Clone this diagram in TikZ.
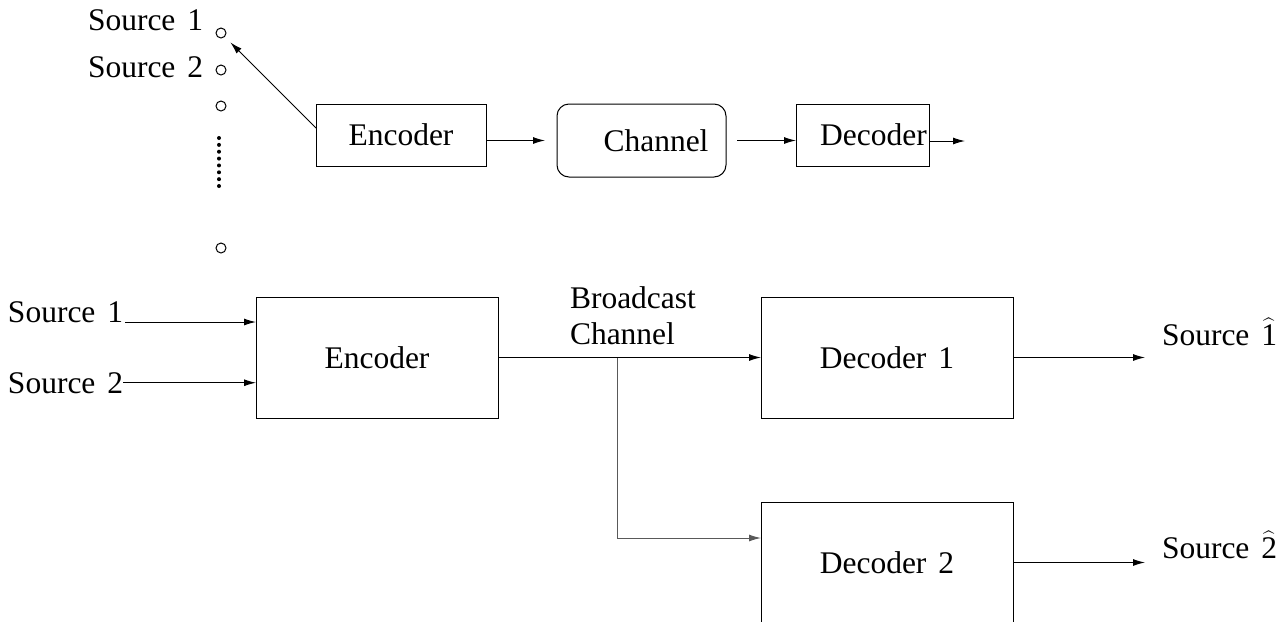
\documentclass[tikz,border=0pt]{standalone}
\usepackage{fontspec}
\setmainfont{Liberation Serif}
\usetikzlibrary{arrows.meta}
\newcommand{\srcgap}{\hspace{6pt}}
\tikzstyle{block}=[draw, inner sep=0, outer sep=0]
\tikzstyle{smallblock}=[block, minimum width=85pt, minimum height=31pt]
\tikzstyle{bigblock}=[block, minimum height=60.5pt]
\tikzstyle{terminal}=[draw, circle, inner sep=0, minimum size=5pt]
\tikzstyle{plain}=[inner sep=0, outer sep=0]
\tikzstyle{conn}=[-{Latex[length=6pt,width=3.5pt]}]
\tikzstyle{diagram}=[x=0.5pt, y=-0.5pt, line width=0.5pt,
                     % text size fitted to the boxes
                     every node/.style={font=\fontsize{15.75}{18}\selectfont}]

\begin{document}
\begin{tikzpicture}[diagram]
        \useasboundingbox (0, 0) rectangle (1282, 622);
        % single source / single user chain
        \node[plain, anchor=base west]        (tsrcA) at (88, 30) {Source\srcgap1};
        \node[plain, anchor=base west]        (tsrcB) at (88, 77) {Source\srcgap2};
        \node[terminal]                       (c1) at (221, 33) {};
        \node[terminal]                       (c2) at (221, 70) {};
        \node[terminal]                       (c3) at (221, 106) {};
        \node[terminal]                       (c4) at (221, 248) {};
        \foreach \k in {0,...,7}
            \fill (219, 138+6.86*\k) circle (1pt);
        \node[smallblock]                     (tenc) at (401, 135) {Encoder};
        \node[block, rounded corners=6pt, minimum width=84.5pt, minimum height=36.5pt]
                                              (chan) at (641.5, 140.5) {\makebox[0pt]{\hspace{14.5pt}\raisebox{-2.25pt}{Channel}}};
        \node[block, minimum width=66.5pt, minimum height=31pt]
                                              (tdec) at (862.5, 135) {\makebox[0pt]{\hspace{11pt}Decoder}};
        \coordinate                           (tout) at (965, 141);
        \draw[conn, shorten >=3.9pt] ([yshift=3.5pt]tenc.west) -- (c1);
        \draw[conn, shorten >=6pt] (tenc.east |- chan.west) -- (chan.west);
        \draw[conn, shorten <=5.5pt] (chan.east) -- (chan.east -| tdec.west);
        \draw[conn] (tdec.east |- tout) -- (tout);
        % broadcast channel with two decoders
        \node[plain, anchor=base west]        (src1) at (8, 322) {Source\srcgap1};
        \node[plain, anchor=base west]        (src2) at (8, 393) {Source\srcgap2};
        \node[bigblock, minimum width=121pt]  (enc) at (377, 357.5) {Encoder};
        \node[bigblock, minimum width=126pt]  (dec1) at (887, 357.5) {Decoder\srcgap1};
        \node[bigblock, minimum width=126pt]  (dec2) at (887, 562.5) {Decoder\srcgap2};
        \node[plain, anchor=south west, align=left] (bc) at (570, 345) {Broadcast\\Channel};
        \node[plain, anchor=base west]        (out1) at (1162, 345) {Source\srcgap$\widehat{\mbox{1}}$};
        \node[plain, anchor=base west]        (out2) at (1162, 558) {Source\srcgap$\widehat{\mbox{2}}$};
        \coordinate                           (br) at (617, 358);
        \draw[conn, shorten <=1pt] (src1.base east) -- (src1.base east -| enc.west);
        \draw[conn] (src2.east) -- (src2.east -| enc.west);
        \draw[conn] (enc.east) -- (dec1.west);
        \draw[conn, draw=black!65] (br) |- ([yshift=12.25pt]dec2.west);
        \draw[conn] (dec1.east) -- ([xshift=-8.5pt]out1.west |- dec1.east);
        \draw[conn] (dec2.east) -- ([xshift=-8.5pt]out2.west |- dec2.east);
    \end{tikzpicture}
\end{document}
